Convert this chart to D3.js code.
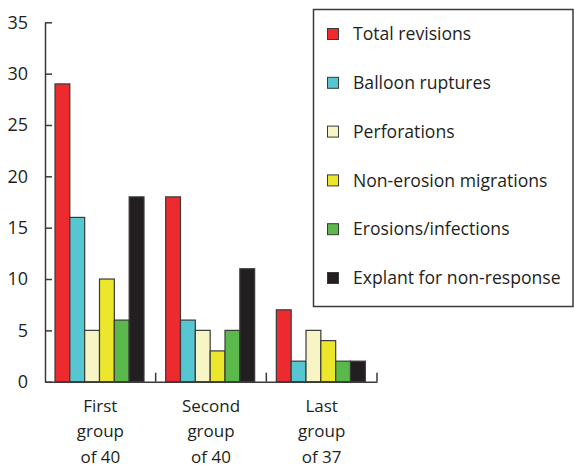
<!DOCTYPE html>
<html><head><meta charset="utf-8">
<script src="https://cdn.jsdelivr.net/npm/d3@7"></script>
<style>
html,body{margin:0;padding:0;background:#fff;}
svg{display:block;}
text{font-family:"Open Sans",sans-serif;fill:#231f20;}
</style></head>
<body>
<svg id="chart" width="574" height="467"></svg>
<script>
const groups = ["First group of 40", "Second group of 40", "Last group of 37"];
const groupLines = [["First","group","of 40"],["Second","group","of 40"],["Last","group","of 37"]];
const seriesNames = ["Total revisions","Balloon ruptures","Perforations","Non-erosion migrations","Erosions/infections","Explant for non-response"];
const seriesColors = ["#ed2b2e","#56c6d3","#f7f5c5","#ece62d","#5bb94b","#231f20"];
const totalRevisions = [29, 18, 7];
const balloonRuptures = [16, 6, 2];
const perforations = [5, 5, 5];
const nonErosionMigrations = [10, 3, 4];
const erosionsInfections = [6, 5, 2];
const explantNonResponse = [18, 11, 2];
const yTicks = [0,5,10,15,20,25,30,35];

const seriesValues = [totalRevisions, balloonRuptures, perforations, nonErosionMigrations, erosionsInfections, explantNonResponse];

const svg = d3.select("#chart");
const x0 = d3.scaleBand().domain(groups).range([45, 377]).padding(0);
const x1 = d3.scaleBand().domain(seriesNames).range([10, 99]).padding(0);
const y = d3.scaleLinear().domain([0, 35]).range([381.7, 22.3]);

// bars
groups.forEach((g, gi) => {
  const gg = svg.append("g").attr("transform", `translate(${x0(g)},0)`);
  seriesNames.forEach((s, si) => {
    const v = seriesValues[si][gi];
    gg.append("rect")
      .attr("x", x1(s))
      .attr("y", y(v))
      .attr("width", x1.bandwidth())
      .attr("height", y(0) - y(v))
      .attr("fill", seriesColors[si])
      .attr("stroke", "#3a3a3a")
      .attr("stroke-width", 1.2);
  });
});

// y axis
const yAxis = svg.append("g").attr("transform", "translate(45,0)")
  .call(d3.axisLeft(y).tickValues(yTicks).tickSizeInner(-7).tickSizeOuter(0).tickPadding(17).tickFormat(d3.format("d")));
yAxis.selectAll("path,line").attr("stroke", "#3a3a3a").attr("stroke-width", 1.5);
yAxis.selectAll("text").style("font-size", "18px").attr("fill", "#231f20").style("font-family", '"Open Sans",sans-serif');

// x axis
const xAxis = svg.append("g").attr("transform", `translate(0,${y(0)})`)
  .call(d3.axisBottom(x0).tickSize(0).tickPadding(0).tickFormat(""));
xAxis.select(".domain").attr("stroke", "#3a3a3a").attr("stroke-width", 1.5);
// boundary ticks
const bounds = groups.map(g => x0(g)).concat([x0.range()[1]]).slice(1);
xAxis.selectAll("line.bound").data(bounds).enter().append("line")
  .attr("class","bound")
  .attr("x1", d => d).attr("x2", d => d).attr("y1", 0).attr("y2", -9)
  .attr("stroke", "#3a3a3a").attr("stroke-width", 1.5);
xAxis.selectAll(".tick text").each(function(d, i) {
  const t = d3.select(this).text(null).attr("y", 0).attr("dy", null)
    .style("font-size", "17px").style("font-family", '"Open Sans",sans-serif').attr("fill", "#231f20");
  groupLines[i].forEach((ln, li) => {
    t.append("tspan").attr("x", 0).attr("y", 30 + li * 25.5).text(ln);
  });
});

// legend
const lg = svg.append("g");
lg.append("rect").attr("x", 313.5).attr("y", 9.5).attr("width", 259.5).attr("height", 297)
  .attr("fill", "#fff").attr("stroke", "#3a3a3a").attr("stroke-width", 1.5);
seriesNames.forEach((s, i) => {
  const cy = 34 + i * 48.8;
  lg.append("rect").attr("x", 327.5).attr("y", cy - 5.5).attr("width", 11).attr("height", 11)
    .attr("fill", seriesColors[i]).attr("stroke", "#3a3a3a").attr("stroke-width", 1);
  lg.append("text").attr("x", 353).attr("y", cy).attr("dy", "0.35em")
    .style("font-size", "17.6px").text(s);
});
</script>
</body></html>
